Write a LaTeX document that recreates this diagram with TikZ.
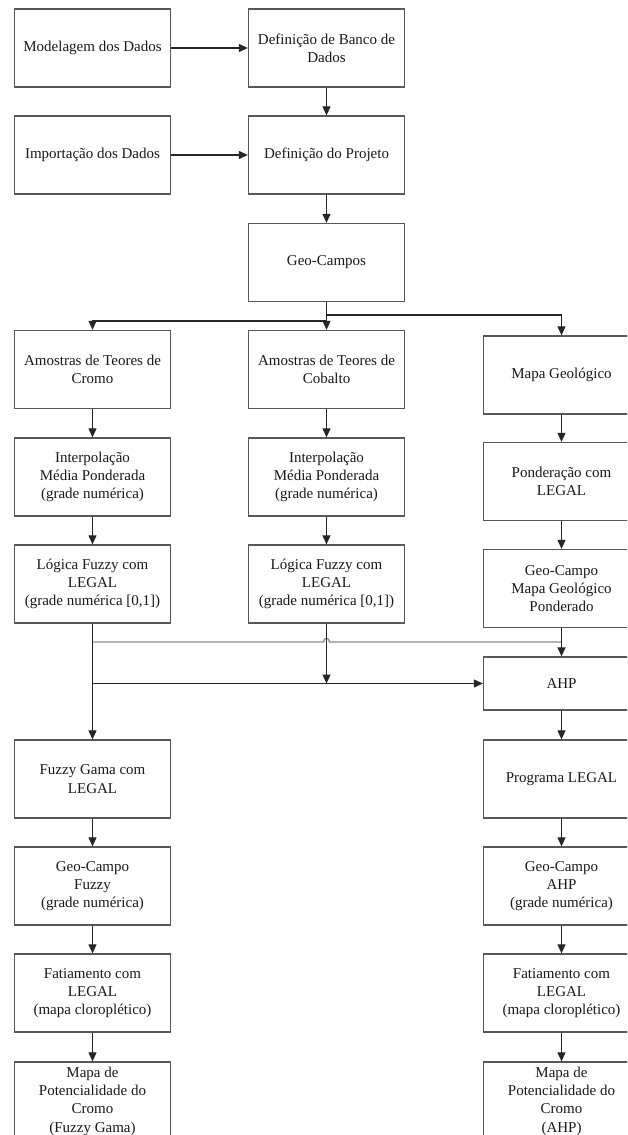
\documentclass[tikz,border=0pt]{standalone}
\usepackage{fontspec}
\setmainfont{Liberation Serif}
\usetikzlibrary{arrows.meta,calc}
\definecolor{boxgray}{RGB}{88,88,88}
\definecolor{hopgray}{RGB}{140,140,140}
\definecolor{txt}{RGB}{25,25,25}
\begin{document}
\begin{tikzpicture}[x=1pt,y=-1pt,
  box/.style={draw=boxgray,line width=1.3pt,fill=white,minimum width=156pt,minimum height=78pt,
    inner sep=0pt,align=center,text=txt,font=\fontsize{15}{18.3}\selectfont},
  shortbox/.style={box,minimum height=53pt},
  arr/.style={draw=black!85,line width=1.1pt,-{Triangle[length=9pt,width=8pt]}},
  hopline/.style={draw=hopgray,line width=1.3pt}]
\useasboundingbox (0,0) rectangle (627,1135);
\clip (0,0) rectangle (627,1135);
\fill[white] (0,0) rectangle (627,1135);
% column 1 / 2 top
\node[box] (mod) at (92.5,48) {Modelagem dos Dados};
\node[box] (dbd) at (326.5,48) {Definição de Banco de\\Dados};
\node[box] (imp) at (92.5,155) {Importação dos Dados};
\node[box] (dpj) at (326.5,155) {Definição do Projeto};
\node[box] (geo) at (326.5,262.5) {Geo-Campos};
% three branches
\node[box] (a1) at (92.5,369.5) {Amostras de Teores de\\Cromo};
\node[box] (a2) at (326.5,369.5) {Amostras de Teores de\\Cobalto};
\node[box] (a3) at (561.5,375) {Mapa Geológico};
\node[box] (i1) at (92.5,477) {Interpolação\\Média Ponderada\\(grade numérica)};
\node[box] (i2) at (326.5,477) {Interpolação\\Média Ponderada\\(grade numérica)};
\node[box] (p3) at (561.5,481.5) {Ponderação com\\LEGAL};
\node[box] (l1) at (92.5,584) {Lógica Fuzzy com\\LEGAL\\(grade numérica [0,1])};
\node[box] (l2) at (326.5,584) {Lógica Fuzzy com\\LEGAL\\(grade numérica [0,1])};
\node[box] (g3) at (561.5,588.5) {Geo-Campo\\Mapa Geológico\\Ponderado};
\node[shortbox] (ahp) at (561.5,683.5) {AHP};
% lower left
\node[box] (fg) at (92.5,779) {Fuzzy Gama com\\LEGAL};
\node[box] (gf) at (92.5,886) {Geo-Campo\\Fuzzy\\(grade numérica)};
\node[box] (f1) at (92.5,993) {Fatiamento com\\LEGAL\\(mapa cloroplético)};
\node[box] (m1) at (92.5,1101) {Mapa de\\Potencialidade do\\Cromo\\(Fuzzy Gama)};
% lower right
\node[box] (pl) at (561.5,779) {Programa LEGAL};
\node[box] (ga) at (561.5,886) {Geo-Campo\\AHP\\(grade numérica)};
\node[box] (f2) at (561.5,993) {Fatiamento com\\LEGAL\\(mapa cloroplético)};
\node[box] (m2) at (561.5,1101) {Mapa de\\Potencialidade do\\Cromo\\(AHP)};
% helper coordinates
\coordinate (fr) at (326.5,315);
\coordinate (fl) at (326.5,321);
\coordinate (hy) at (0,642);
\coordinate (h1) at (l1.south |- hy);
\coordinate (h3) at (g3.south |- hy);
\coordinate (hpa) at (323.5,642);
\coordinate (hpb) at (329.5,642);
\coordinate (hca) at (323.5,637);
\coordinate (hcb) at (329.5,637);
\coordinate (b1) at (l1.south |- ahp.west);
\coordinate (b2) at (l2.south |- ahp.west);
% top connectors
\draw[arr] (mod) -- (dbd);
\draw[arr] (imp) -- (dpj);
\draw[arr] (dbd) -- (dpj);
\draw[arr] (dpj) -- (geo);
\draw[arr] (geo) -- (a2);
\draw[arr] (fr) -| (a3.north);
\draw[arr] (fl) -| (a1.north);
% branch chains
\draw[arr] (a1) -- (i1);
\draw[arr] (i1) -- (l1);
\draw[arr] (a2) -- (i2);
\draw[arr] (i2) -- (l2);
\draw[arr] (a3) -- (p3);
\draw[arr] (p3) -- (g3);
% merging
\draw[hopline] (h1) -- (hpa) .. controls (hca) and (hcb) .. (hpb) -- (h3);
\draw[arr] (g3) -- (ahp);
\draw[arr] (l1) -- (fg);
\draw[arr] (b1) -- (ahp.west);
\draw[arr] (l2) -- (b2);
% lower chains
\draw[arr] (fg) -- (gf);
\draw[arr] (gf) -- (f1);
\draw[arr] (f1) -- (m1);
\draw[arr] (ahp) -- (pl);
\draw[arr] (pl) -- (ga);
\draw[arr] (ga) -- (f2);
\draw[arr] (f2) -- (m2);
\end{tikzpicture}
\end{document}
